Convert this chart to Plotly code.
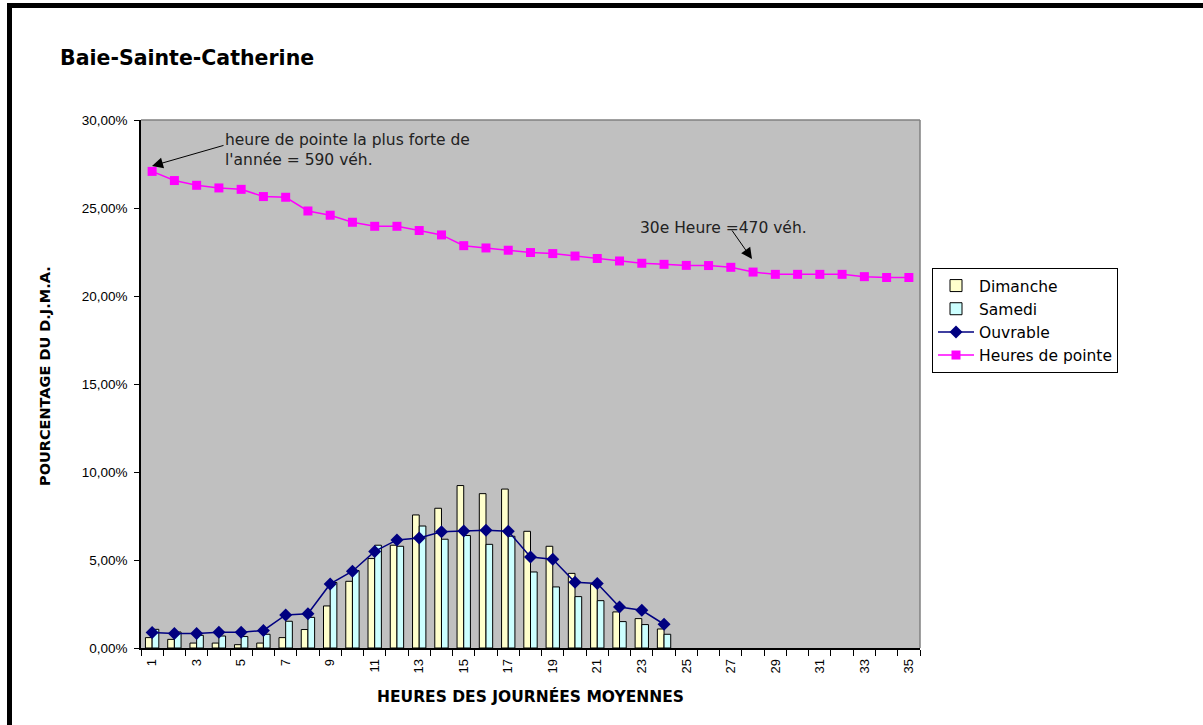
import plotly.graph_objects as go

hours = list(range(1, 36))
day_hours = list(range(1, 25))

dimanche = [0.59, 0.49, 0.28, 0.28, 0.19, 0.28, 0.59, 1.05, 2.39, 3.79, 5.08, 5.84,
            7.56, 7.94, 9.23, 8.77, 9.03, 6.63, 5.78, 4.24, 3.62, 2.05, 1.67, 1.08]
samedi = [1.06, 0.91, 0.72, 0.68, 0.65, 0.78, 1.52, 1.74, 3.72, 4.40, 5.84, 5.78,
          6.93, 6.18, 6.39, 5.89, 6.35, 4.32, 3.47, 2.92, 2.69, 1.50, 1.33, 0.78]
ouvrable = [0.88, 0.82, 0.82, 0.89, 0.89, 1.00, 1.88, 1.95, 3.64, 4.36, 5.49, 6.14,
            6.25, 6.61, 6.65, 6.69, 6.64, 5.17, 5.04, 3.73, 3.66, 2.33, 2.14, 1.35]
pointe = [27.08, 26.56, 26.29, 26.14, 26.06, 25.65, 25.61, 24.83, 24.59, 24.19,
          23.96, 23.96, 23.72, 23.47, 22.86, 22.73, 22.60, 22.47, 22.41, 22.27,
          22.13, 21.99, 21.86, 21.80, 21.74, 21.73, 21.63, 21.36, 21.23, 21.23,
          21.23, 21.23, 21.10, 21.05, 21.05]

y_ticks = [0, 5, 10, 15, 20, 25, 30]
y_ticktext = ["0,00%", "5,00%", "10,00%", "15,00%", "20,00%", "25,00%", "30,00%"]
x_ticks = list(range(1, 36, 2))

FONT = "Liberation Sans, Arial, sans-serif"
WIDE = "DejaVu Sans, Verdana, sans-serif"
W, H = 1203, 725
L, R, T, B = 141, 920, 120, 648

def px(x):
    return (x - L) / (R - L)

def py(y):
    return (B - y) / (B - T)

fig = go.Figure()
fig.add_trace(go.Bar(x=day_hours, y=dimanche, name="Dimanche",
                     marker=dict(color="#FFFFCC", line=dict(color="black", width=1))))
fig.add_trace(go.Bar(x=day_hours, y=samedi, name="Samedi",
                     marker=dict(color="#CCFFFF", line=dict(color="black", width=1))))
fig.add_trace(go.Scatter(x=day_hours, y=ouvrable, name="Ouvrable", mode="lines+markers",
                         line=dict(color="#000080", width=1.5),
                         marker=dict(symbol="diamond", size=10, color="#000080")))
fig.add_trace(go.Scatter(x=hours, y=pointe, name="Heures de pointe", mode="lines+markers",
                         line=dict(color="#FF00FF", width=1.5),
                         marker=dict(symbol="square", size=9, color="#FF00FF")))

shapes = [
    dict(type="line", xref="paper", yref="paper", x0=0, x1=1, y0=1, y1=1,
         line=dict(color="#808080", width=1.5)),
    dict(type="line", xref="paper", yref="paper", x0=1, x1=1, y0=0, y1=1,
         line=dict(color="#808080", width=1.5)),
    dict(type="line", xref="paper", yref="paper", x0=px(7), x1=px(1210), y0=py(5.5), y1=py(5.5),
         line=dict(color="black", width=5)),
    dict(type="line", xref="paper", yref="paper", x0=px(9.5), x1=px(9.5), y0=py(3), y1=py(730),
         line=dict(color="black", width=5)),
]

annotations = [
    dict(xref="paper", yref="paper", x=px(223), y=py(150), xanchor="left", yanchor="middle",
         text="heure de pointe la plus forte de<br>l'année = 590 véh.", showarrow=False,
         align="left", font=dict(family=WIDE, size=15.5, color="#222222")),
    dict(xref="paper", yref="paper", x=px(152), y=py(166), ax=73, ay=-21, text="",
         showarrow=True, arrowhead=2, arrowsize=2.2, arrowwidth=1, arrowcolor="black"),
    dict(xref="paper", yref="paper", x=px(638), y=py(228), xanchor="left", yanchor="middle",
         text="30e Heure =470 véh.", showarrow=False,
         font=dict(family=WIDE, size=15.5, color="#222222")),
    dict(xref="paper", yref="paper", x=px(752), y=py(259), ax=-21, ay=-30, text="",
         showarrow=True, arrowhead=2, arrowsize=2.2, arrowwidth=1, arrowcolor="black"),
    dict(xref="paper", yref="paper", x=px(530), y=py(696), xanchor="center", yanchor="middle",
         text="<b>HEURES DES JOURNÉES MOYENNES</b>", showarrow=False,
         font=dict(family=WIDE, size=15.5, color="black")),
    dict(xref="paper", yref="paper", x=px(45), y=py(376), xanchor="center", yanchor="middle",
         text="<b>POURCENTAGE DU D.J.M.A.</b>", showarrow=False, textangle=-90,
         font=dict(family=WIDE, size=14.5, color="black")),
]

fig.update_layout(
    width=W, height=H,
    margin=dict(l=L, r=W - R, t=T, b=H - B, pad=0),
    paper_bgcolor="white", plot_bgcolor="#C0C0C0",
    barmode="group", bargap=0.4, bargroupgap=0,
    font=dict(family=FONT, size=13, color="black"),
    title=dict(text="<b>Baie-Sainte-Catherine</b>", xref="container", yref="container",
               x=60 / W, y=1 - 58 / H, xanchor="left", yanchor="middle",
               font=dict(family=WIDE, size=20.5, color="black")),
    showlegend=True,
    legend=dict(x=px(932), y=py(268), xanchor="left", yanchor="top",
                bgcolor="white", bordercolor="black", borderwidth=1,
                font=dict(family=WIDE, size=15.5, color="black"),
                traceorder="normal", itemwidth=36, tracegroupgap=0),
    shapes=shapes, annotations=annotations,
)

fig.update_xaxes(range=[0.5, 35.5], tickmode="array", tickvals=x_ticks,
                 ticktext=[str(v) for v in x_ticks], tickangle=-90,
                 ticks="", showgrid=False, zeroline=False,
                 showline=True, linecolor="black", linewidth=1.5,
                 tickfont=dict(family=FONT, size=13, color="black"),
                 ticklabelstandoff=4,
                 minor=dict(tickmode="array", tickvals=[i + 0.5 for i in range(0, 36)],
                            ticks="outside", ticklen=6, tickcolor="black", tickwidth=1,
                            showgrid=False))
fig.update_yaxes(range=[0, 30], tickmode="array", tickvals=y_ticks, ticktext=y_ticktext,
                 ticks="outside", ticklen=5, tickcolor="black", tickwidth=1,
                 ticklabelstandoff=4,
                 showgrid=False, zeroline=False,
                 showline=True, linecolor="black", linewidth=1.5,
                 tickfont=dict(family=FONT, size=13.5, color="black"))

fig.write_html("out.html")
